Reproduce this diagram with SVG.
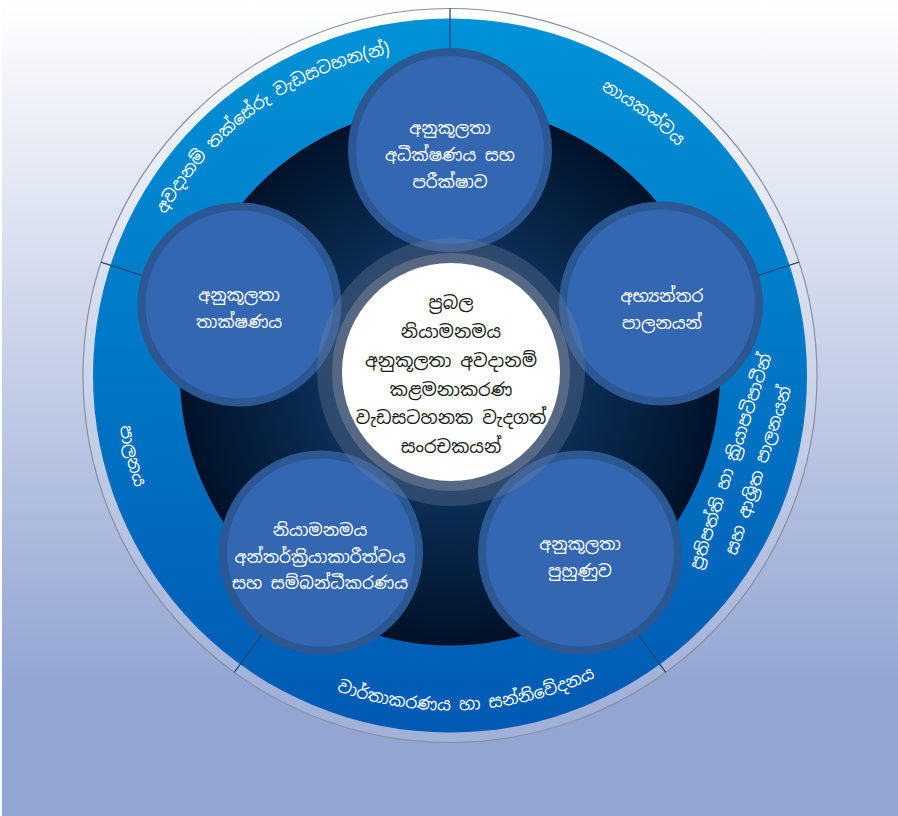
<svg xmlns="http://www.w3.org/2000/svg" width="898" height="816" viewBox="0 0 898 816">
<defs>
  <linearGradient id="bg" x1="0" y1="0" x2="0" y2="690" gradientUnits="userSpaceOnUse">
    <stop offset="0" stop-color="#ffffff"/>
    <stop offset="1" stop-color="#92a5d3"/>
  </linearGradient>
  <linearGradient id="ring" x1="0" y1="18" x2="0" y2="733" gradientUnits="userSpaceOnUse">
    <stop offset="0" stop-color="#0092d6"/>
    <stop offset="1" stop-color="#0059b3"/>
  </linearGradient>
  <radialGradient id="dark" cx="450" cy="372" r="270" gradientUnits="userSpaceOnUse">
    <stop offset="0" stop-color="#1d4a78"/>
    <stop offset="0.55" stop-color="#0a2a50"/>
    <stop offset="1" stop-color="#001229"/>
  </radialGradient>
  <path id="arcTL" d="M124.5,406.8 A327,327 0 0 1 585.6,77.9"/>
  <path id="arcTR" d="M485.4,54.4 A323,323 0 0 1 745.8,245.7"/>
  <path id="arcL" d="M128.6,284.6 A334,334 0 0 0 210.6,608.4"/>
  <path id="arcB" d="M169,557.9 A335,335 0 0 0 748.5,527.6"/>
</defs>
<style>
  .node circle{fill:#3367b2;stroke:#2b5793;stroke-width:8}
  .nt{font-family:"Noto Sans Sinhala","Noto Sans","DejaVu Sans",sans-serif;font-size:17px;fill:#ffffff;text-anchor:middle}
  .ct{font-family:"Noto Sans Sinhala","Noto Sans","DejaVu Sans",sans-serif;font-size:18px;fill:#1a1a1a;text-anchor:middle}
  .rl{font-family:"Noto Sans Sinhala","Noto Sans","DejaVu Sans",sans-serif;font-size:17px;fill:#ffffff}
  .div{stroke:#1d4a7c;stroke-width:1.3}
</style>
<rect x="0" y="0" width="898" height="816" fill="#ffffff"/>
<rect x="2" y="0" width="896" height="816" fill="url(#bg)"/>

<g id="ring-base">
  <circle cx="450" cy="375.5" r="367" fill="#ffffff" fill-opacity="0.14" stroke="#8a8f9c" stroke-width="1.2"/>
  <circle cx="450" cy="375.5" r="357" fill="url(#ring)"/>
  <circle cx="450" cy="375.5" r="270" fill="url(#dark)"/>
</g>

<g id="connectors">
  <line class="div" x1="450" y1="105.5" x2="450" y2="8.5"/>
  <line class="div" x1="706.8" y1="292.1" x2="799" y2="262.1"/>
  <line class="div" x1="608.7" y1="594" x2="665.7" y2="672.4"/>
  <line class="div" x1="291.3" y1="594" x2="234.3" y2="672.4"/>
  <line class="div" x1="193.2" y1="292.1" x2="101" y2="262.1"/>
</g>

<g id="ring-labels">
  <text class="rl"><textPath href="#arcTL" startOffset="50%" text-anchor="middle">අවදානම් තක්සේරු වැඩසටහන(න්)</textPath></text>
  <text class="rl"><textPath href="#arcTR" startOffset="50%" text-anchor="middle">නායකත්වය</textPath></text>
  <text class="rl"><textPath href="#arcL" startOffset="50%" text-anchor="middle">පාලනය</textPath></text>
  <text class="rl"><textPath href="#arcB" startOffset="50%" text-anchor="middle">වාර්තාකරණය හා සන්නිවේදනය</textPath></text>
  <g transform="translate(745,466) rotate(-71.7)">
    <text class="rl" text-anchor="middle" x="0" y="-9">ප්‍රතිපත්ති හා ක්‍රියාපටිපාටීන්</text>
    <text class="rl" text-anchor="middle" x="0" y="20">සහ ආශ්‍රිත පාලනයන්</text>
  </g>
</g>

<g id="node-top" class="node">
  <circle cx="450" cy="150" r="98"/>
  <text class="nt" x="450" y="134">අනුකූලතා</text>
  <text class="nt" x="450" y="161">අධීක්ෂණය සහ</text>
  <text class="nt" x="450" y="188">පරීක්ෂාව</text>
</g>
<g id="node-right" class="node">
  <circle cx="661" cy="303.5" r="98"/>
  <text class="nt" x="662" y="302">අභ්‍යන්තර</text>
  <text class="nt" x="662" y="329">පාලනයන්</text>
</g>
<g id="node-bottom-right" class="node">
  <circle cx="580" cy="552.5" r="98"/>
  <text class="nt" x="580" y="550">අනුකූලතා</text>
  <text class="nt" x="580" y="577">පුහුණුව</text>
</g>
<g id="node-bottom-left" class="node">
  <circle cx="321" cy="552.5" r="98"/>
  <text class="nt" x="320" y="536">නියාමනමය</text>
  <text class="nt" x="320" y="563">අන්තර්ක්‍රියාකාරීත්වය</text>
  <text class="nt" x="320" y="589">සහ සම්බන්ධීකරණය</text>
</g>
<g id="node-left" class="node">
  <circle cx="239.5" cy="304.5" r="98"/>
  <text class="nt" x="239" y="301">අනුකූලතා</text>
  <text class="nt" x="239" y="328">තාක්ෂණය</text>
</g>

<g id="node-center">
  <circle cx="451" cy="372" r="134" fill="#7284a2" fill-opacity="0.32"/>
  <circle cx="451" cy="372" r="119" fill="#5c6b86" fill-opacity="0.9"/>
  <circle cx="451" cy="372" r="109" fill="#ffffff"/>
  <text class="ct" x="451" y="309">ප්‍රබල</text>
  <text class="ct" x="451" y="338">නියාමනමය</text>
  <text class="ct" x="451" y="367">අනුකූලතා අවදානම්</text>
  <text class="ct" x="451" y="396">කළමනාකරණ</text>
  <text class="ct" x="451" y="424">වැඩසටහනක වැදගත්</text>
  <text class="ct" x="451" y="453">සංරචකයන්</text>
</g>
</svg>
